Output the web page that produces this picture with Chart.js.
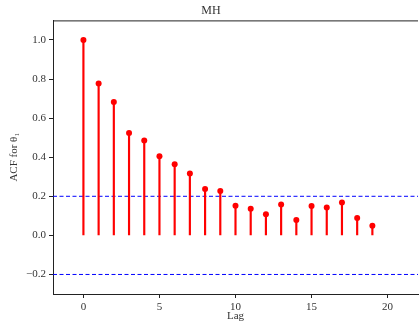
<!DOCTYPE html>
<html>
<head>
<meta charset="utf-8">
<script src="https://cdn.jsdelivr.net/npm/chart.js@4"></script>
<style>
  html, body { margin: 0; padding: 0; background: #fff; overflow: hidden; }
  #wrap { width: 422px; height: 326px; }
</style>
</head>
<body>
<div id="wrap"><canvas id="acf"></canvas></div>
<script>
// lags and autocorrelation values
const lags = [0, 1, 2, 3, 4, 5, 6, 7, 8, 9, 10, 11, 12, 13, 14, 15, 16, 17, 18, 19];
const acf = [1.0, 0.777, 0.682, 0.524, 0.485, 0.405, 0.364, 0.316, 0.237, 0.227,
             0.151, 0.136, 0.108, 0.158, 0.079, 0.150, 0.143, 0.168, 0.089, 0.049];
const bandHi = 0.2;
const bandLo = -0.2;
const xTicks = [0, 5, 10, 15, 20];
const yTicks = [-0.2, 0.0, 0.2, 0.4, 0.6, 0.8, 1.0];
const xRange = [-2, 22];
const yRange = [-0.3, 1.1];

const pts = lags.map((l, i) => ({ x: l, y: acf[i] }));
const serif = "'Liberation Serif', 'DejaVu Serif', serif";
const ink = '#333';

// top spine (matplotlib style box)
const topSpine = {
  id: 'topSpine',
  afterDraw(chart) {
    const { ctx, chartArea } = chart;
    ctx.save();
    ctx.strokeStyle = '#222';
    ctx.lineWidth = 1;
    ctx.beginPath();
    ctx.moveTo(chartArea.left, chartArea.top + 0.5);
    ctx.lineTo(chartArea.right, chartArea.top + 0.5);
    ctx.stroke();
    ctx.restore();
  }
};

new Chart(document.getElementById('acf'), {
  data: {
    datasets: [
      {
        type: 'scatter',
        data: pts,
        pointRadius: 3,
        pointBackgroundColor: '#ff0000',
        pointBorderWidth: 0,
        order: 0
      },
      {
        type: 'bar',
        data: pts,
        backgroundColor: '#ff0000',
        barThickness: 1.5,
        grouped: false,
        order: 1
      },
      {
        type: 'line',
        data: [{ x: xRange[0], y: bandHi }, { x: xRange[1], y: bandHi }],
        borderColor: '#0000ff',
        borderWidth: 1,
        borderDash: [4, 2.5],
        pointRadius: 0,
        order: 2
      },
      {
        type: 'line',
        data: [{ x: xRange[0], y: bandLo }, { x: xRange[1], y: bandLo }],
        borderColor: '#0000ff',
        borderWidth: 1,
        borderDash: [4, 2.5],
        pointRadius: 0,
        order: 2
      }
    ]
  },
  options: {
    responsive: true,
    maintainAspectRatio: false,
    animation: false,
    layout: { padding: { left: 0, right: 0, top: 0, bottom: 0 } },
    plugins: {
      legend: { display: false },
      tooltip: { enabled: false },
      title: {
        display: true,
        text: 'MH',
        color: ink,
        font: { family: serif, size: 12, weight: 'normal' },
        padding: { top: 4, bottom: 2 }
      }
    },
    scales: {
      x: {
        type: 'linear',
        offset: false,
        min: xRange[0],
        max: xRange[1],
        afterBuildTicks: s => { s.ticks = xTicks.map(v => ({ value: v })); },
        afterFit: s => { s.height = 32; },
        grid: { offset: false, drawOnChartArea: false, drawTicks: true, tickLength: 4, color: '#222' },
        border: { display: true, color: '#222', width: 1 },
        ticks: { color: ink, font: { family: serif, size: 11 }, padding: 3 },
        title: {
          display: true,
          text: 'Lag',
          color: ink,
          font: { family: serif, size: 11 },
          padding: { top: 0, bottom: 3 }
        }
      },
      y: {
        type: 'linear',
        min: yRange[0],
        max: yRange[1],
        afterBuildTicks: s => { s.ticks = yTicks.map(v => ({ value: v })); },
        afterFit: s => { s.width = 53; },
        grid: { drawOnChartArea: false, drawTicks: true, tickLength: 4, color: '#222' },
        border: { display: true, color: '#222', width: 1 },
        ticks: {
          color: ink,
          font: { family: serif, size: 11 },
          padding: 3,
          callback: v => (v < 0 ? '\u2212' + Math.abs(v).toFixed(1) : v.toFixed(1))
        },
        title: {
          display: true,
          text: 'ACF for \u03B8\u2081',
          color: ink,
          font: { family: serif, size: 11 },
          padding: { top: 8, bottom: 0 }
        }
      }
    }
  },
  plugins: [topSpine]
});
</script>
</body>
</html>
